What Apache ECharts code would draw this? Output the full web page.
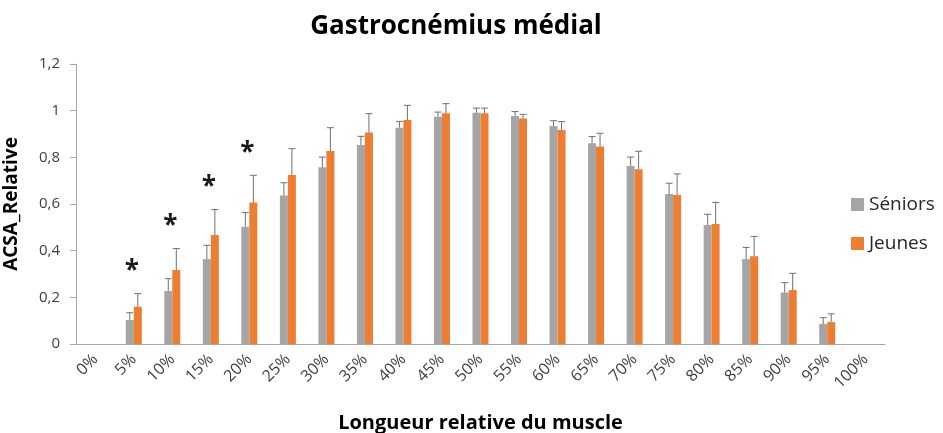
<!DOCTYPE html>
<html>
<head>
<meta charset="utf-8">
<script src="https://cdn.jsdelivr.net/npm/echarts@6/dist/echarts.min.js"></script>
<style>
  html, body { margin: 0; padding: 0; background: #fff; }
  #chart { width: 943px; height: 433px; }
</style>
</head>
<body>
<div id="chart"></div>
<script>
// Relative muscle length positions
const categories = ['0%','5%','10%','15%','20%','25%','30%','35%','40%','45%','50%',
                    '55%','60%','65%','70%','75%','80%','85%','90%','95%','100%'];

// Mean relative ACSA per group
const seniors = [0, 0.103, 0.227, 0.364, 0.503, 0.636, 0.757, 0.853, 0.927, 0.974, 0.991,
                 0.977, 0.934, 0.860, 0.763, 0.643, 0.510, 0.364, 0.221, 0.086, -0.003];
const jeunes  = [0, 0.160, 0.317, 0.467, 0.606, 0.724, 0.827, 0.906, 0.960, 0.989, 0.989,
                 0.966, 0.917, 0.846, 0.749, 0.639, 0.514, 0.376, 0.231, 0.094, -0.004];

// Standard deviations (upper error bars)
const seniorsSD = [0, 0.031, 0.053, 0.059, 0.060, 0.055, 0.044, 0.037, 0.027, 0.020, 0.020,
                   0.019, 0.023, 0.029, 0.038, 0.046, 0.046, 0.050, 0.042, 0.027, 0];
const jeunesSD  = [0, 0.056, 0.092, 0.109, 0.117, 0.113, 0.100, 0.081, 0.063, 0.041, 0.022,
                   0.018, 0.036, 0.057, 0.077, 0.090, 0.093, 0.085, 0.072, 0.035, 0];

// Significant difference between groups (1 = marked with *)
const significant = [0, 1, 1, 1, 1, 0, 0, 0, 0, 0, 0, 0, 0, 0, 0, 0, 0, 0, 0, 0, 0];

const yTicks = [0, 0.2, 0.4, 0.6, 0.8, 1, 1.2];

const GREY = '#A5A5A5';
const ORANGE = '#ED7D31';
const BAR_W = 8;
const FONT = '"Open Sans", Lato, sans-serif';

function errorBars(values, sds, offset, withStars) {
  return {
    type: 'custom',
    silent: true,
    z: 5,
    data: values.map((v, i) => [i, v, sds[i], withStars ? significant[i] : 0]),
    renderItem: function (params, api) {
      const i = api.value(0);
      const v = api.value(1);
      const sd = api.value(2);
      const sig = api.value(3);
      const base = api.coord([i, v]);
      const top = api.coord([i, v + sd]);
      const x = base[0] + offset;
      const children = [];
      if (sd > 0) {
        const st = { stroke: '#707070', lineWidth: 1 };
        children.push({ type: 'line', shape: { x1: x, y1: base[1], x2: x, y2: top[1] }, style: st });
        children.push({ type: 'line', shape: { x1: x - 3.5, y1: top[1], x2: x + 3.5, y2: top[1] }, style: st });
      }
      if (sig) {
        children.push({
          type: 'text',
          style: {
            text: '*',
            x: base[0] - 2,
            y: top[1] - 22,
            align: 'center',
            verticalAlign: 'middle',
            font: 'bold 26px ' + FONT,
            fill: '#1a1a1a'
          }
        });
      }
      return { type: 'group', children: children };
    }
  };
}

const chart = echarts.init(document.getElementById('chart'), null, { renderer: 'canvas' });
chart.setOption({
  animation: false,
  backgroundColor: '#fff',
  title: {
    text: 'Gastrocnémius médial',
    left: 451,
    textAlign: 'center',
    top: 9,
    textStyle: { fontFamily: FONT, fontWeight: 'bold', fontSize: 26, color: '#000' }
  },
  legend: {
    orient: 'vertical',
    left: 846,
    top: 190,
    itemWidth: 13,
    itemHeight: 13,
    itemGap: 20,
    icon: 'rect',
    data: ['Séniors', 'Jeunes'],
    textStyle: { fontFamily: FONT, fontSize: 19, color: '#262626', padding: [0, 0, 0, 0] }
  },
  grid: { left: 76, right: 58, top: 64, bottom: 89, containLabel: false, outerBoundsMode: 'none' },
  xAxis: {
    type: 'category',
    data: categories,
    name: 'Longueur relative du muscle',
    nameLocation: 'middle',
    nameGap: 69,
    nameTextStyle: { fontFamily: FONT, fontWeight: 'bold', fontSize: 20, color: '#000' },
    axisLine: { lineStyle: { color: '#a6a6a6', width: 1 } },
    axisTick: { show: false },
    axisLabel: { rotate: 45, margin: 13, fontFamily: FONT, fontSize: 16, color: '#404040' }
  },
  yAxis: {
    type: 'value',
    min: yTicks[0],
    max: yTicks[yTicks.length - 1],
    interval: 0.2,
    name: 'ACSA_Relative',
    nameLocation: 'middle',
    nameGap: 55,
    nameTextStyle: { fontFamily: FONT, fontWeight: 'bold', fontSize: 19, color: '#000' },
    axisLine: { show: true, lineStyle: { color: '#a6a6a6', width: 1 } },
    axisTick: { show: true, length: 6, lineStyle: { color: '#a6a6a6' } },
    splitLine: { show: false },
    axisLabel: {
      margin: 16,
      fontFamily: FONT,
      fontSize: 15,
      color: '#404040',
      formatter: v => String(Math.round(v * 10) / 10).replace('.', ',')
    }
  },
  series: [
    { name: 'Séniors', type: 'bar', data: seniors, barWidth: BAR_W, barGap: '0%',
      itemStyle: { color: GREY } },
    { name: 'Jeunes', type: 'bar', data: jeunes, barWidth: BAR_W, barGap: '0%',
      itemStyle: { color: ORANGE } },
    errorBars(seniors, seniorsSD, -BAR_W / 2, false),
    errorBars(jeunes, jeunesSD, BAR_W / 2, true)
  ]
});
</script>
</body>
</html>
